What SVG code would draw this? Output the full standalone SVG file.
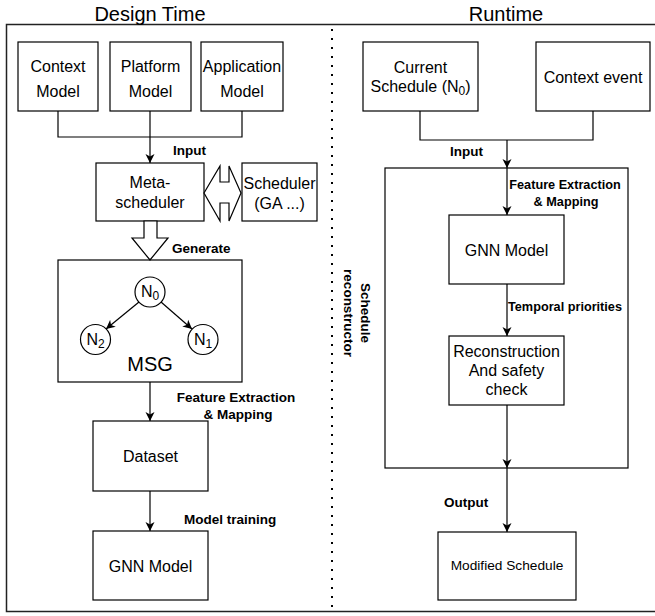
<svg xmlns="http://www.w3.org/2000/svg" width="655" height="616" viewBox="0 0 655 616">
<style>
.box{fill:#fff;stroke:#000;stroke-width:1.2}
.frame{fill:none;stroke:#222;stroke-width:1.5}
.t{font-family:"Liberation Sans",Arial,sans-serif;font-size:16px;fill:#000;text-anchor:middle}
.b{font-family:"Liberation Sans",Arial,sans-serif;font-size:13.5px;font-weight:bold;fill:#000}
.bs{font-family:"Liberation Sans",Arial,sans-serif;font-size:12.7px;font-weight:bold;fill:#000}
.title{font-family:"Liberation Sans",Arial,sans-serif;font-size:20px;fill:#000;text-anchor:middle}
.c{fill:none;stroke:#000;stroke-width:1.2}
.a{fill:none;stroke:#000;stroke-width:1.2;marker-end:url(#arr)}
</style>
<defs>
<marker id="arr" markerWidth="10" markerHeight="10" refX="9" refY="5" orient="auto" markerUnits="userSpaceOnUse">
<path d="M0,0.5 L9,5 L0,9.5 L2.5,5 Z" fill="#000"/>
</marker>
</defs>
<rect width="655" height="616" fill="#fff"/>
<g id="frames">
<rect class="frame" x="6.5" y="24.5" width="660" height="587"/>
<line x1="332" y1="29" x2="332" y2="612" stroke="#000" stroke-width="2" stroke-dasharray="2,7"/>
<text class="title" x="150" y="21">Design Time</text>
<text class="title" x="506" y="21">Runtime</text>
</g>
<g id="context-model"><rect class="box" x="18" y="42" width="80" height="69"/><text class="t" x="58" y="72">Context</text><text class="t" x="58" y="97">Model</text></g>
<g id="platform-model"><rect class="box" x="110" y="42" width="81" height="69"/><text class="t" x="150.5" y="72">Platform</text><text class="t" x="150.5" y="97">Model</text></g>
<g id="application-model"><rect class="box" x="201" y="42" width="82" height="69"/><text class="t" x="242" y="72">Application</text><text class="t" x="242" y="97">Model</text></g>
<g id="meta-scheduler"><rect class="box" x="96" y="163" width="108" height="58"/><text class="t" x="150" y="188">Meta-</text><text class="t" x="150" y="208">scheduler</text></g>
<g id="scheduler"><rect class="box" x="242" y="163" width="75" height="58"/><text class="t" x="279.5" y="189">Scheduler</text><text class="t" x="279.5" y="209">(GA ...)</text></g>
<g id="msg"><rect class="box" x="58" y="260" width="184" height="122"/><text class="title" x="150" y="371">MSG</text></g>
<g id="n0"><circle class="box" cx="150" cy="292" r="15"/><text class="t" x="150" y="297">N<tspan dy="3" font-size="12">0</tspan></text></g>
<g id="n2"><circle class="box" cx="95.5" cy="339.5" r="15"/><text class="t" x="95.5" y="344.5">N<tspan dy="3" font-size="12">2</tspan></text></g>
<g id="n1"><circle class="box" cx="203" cy="339.5" r="15"/><text class="t" x="203" y="344.5">N<tspan dy="3" font-size="12">1</tspan></text></g>
<g id="dataset"><rect class="box" x="93" y="421" width="115" height="70"/><text class="t" x="150.5" y="462">Dataset</text></g>
<g id="gnn-left"><rect class="box" x="93" y="531" width="115" height="69"/><text class="t" x="150.5" y="572">GNN Model</text></g>
<g id="current-schedule"><rect class="box" x="363" y="42" width="115" height="69"/><text class="t" x="420.5" y="73">Current</text><text class="t" x="420.5" y="92">Schedule (N<tspan dy="3" font-size="12">0</tspan><tspan dy="-3">)</tspan></text></g>
<g id="context-event"><rect class="box" x="536" y="42" width="114" height="69"/><text class="t" x="593" y="83">Context event</text></g>
<g id="schedule-reconstructor"><rect x="385" y="168" width="243" height="300" style="fill:none;stroke:#000;stroke-width:1.2"/>
<g transform="translate(361,313) rotate(90)"><text class="b" x="0" y="0" text-anchor="middle">Schedule</text><text class="b" x="0" y="17" text-anchor="middle">reconstructor</text></g></g>
<g id="gnn-right"><rect class="box" x="449" y="215" width="115" height="69"/><text class="t" x="506.5" y="256">GNN Model</text></g>
<g id="reconstruction"><rect class="box" x="449" y="336" width="115" height="69"/><text class="t" x="506.5" y="357">Reconstruction</text><text class="t" x="506.5" y="376">And safety</text><text class="t" x="506.5" y="395">check</text></g>
<g id="modified-schedule"><rect class="box" x="438" y="532" width="138" height="68"/><text class="t" x="507" y="570" style="font-size:13.7px">Modified Schedule</text></g>
<g id="connectors">
<path class="c" d="M58,111 V137 H242 V111"/>
<path class="a" d="M150,111 V163"/>
<path class="c" d="M420,111 V140 H593 V111"/>
<path class="a" d="M507,140 V168"/>
<path class="a" d="M507,168 V215"/>
<path class="a" d="M507,284 V336"/>
<path class="a" d="M507,405 V468"/>
<path class="a" d="M507,468 V532"/>
<path class="a" d="M150,382 V421"/>
<path class="a" d="M150,491 V531"/>
<path class="a" d="M139,302 L106,329"/>
<path class="a" d="M161,302 L192,329"/>
<polygon class="box" points="144,221 157,221 157,238 168,238 150,260 132,238 144,238"/>
<polygon class="box" points="204,193 220,166 220,182 229,182 229,166 241,193 229,221 229,203 220,203 220,221"/>
<text class="b" x="173" y="155">Input</text>
<text class="b" x="172" y="253">Generate</text>
<text class="b" x="236" y="402" text-anchor="middle">Feature Extraction</text>
<text class="b" x="238" y="419" text-anchor="middle">&amp; Mapping</text>
<text class="b" x="184" y="524">Model training</text>
<text class="b" x="450" y="156">Input</text>
<text class="bs" x="565" y="189" text-anchor="middle">Feature Extraction</text>
<text class="bs" x="566" y="206" text-anchor="middle">&amp; Mapping</text>
<text class="bs" x="508" y="311">Temporal priorities</text>
<text class="b" x="444" y="507">Output</text>
</g>
</svg>
